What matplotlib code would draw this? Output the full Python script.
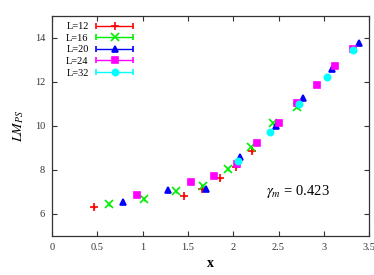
import numpy as np
import matplotlib
matplotlib.use('Agg')
import matplotlib.pyplot as plt
from matplotlib.legend_handler import HandlerErrorbar

plt.rcParams['font.family'] = 'Liberation Serif'
plt.rcParams['mathtext.fontset'] = 'stix'

# data
labels = ['L=12', 'L=16', 'L=20', 'L=24', 'L=32']
colors = ['#ff0000', '#00ee00', '#0000ff', '#ff00ff', '#00ffff']
markers = ['+', 'x', '^', 's', 'o']
msizes = [5.5, 5.5, 5, 5, 4.5]

x12 = [0.467, 1.46, 1.652, 1.854, 2.03, 2.204]
y12 = [6.32, 6.83, 7.13, 7.61, 8.15, 8.86]
x16 = [0.629, 1.019, 1.365, 1.663, 1.946, 2.196, 2.44, 2.70]
y16 = [6.45, 6.68, 7.02, 7.28, 8.03, 9.02, 10.12, 10.86]
x20 = [0.78, 1.277, 1.70, 2.08, 2.47, 2.77, 3.087, 3.39]
y20 = [6.54, 7.07, 7.13, 8.57, 10.0, 11.28, 12.56, 13.77]
x24 = [0.94, 1.534, 1.79, 2.04, 2.266, 2.50, 2.70, 2.92, 3.127, 3.32]
y24 = [6.86, 7.44, 7.70, 8.26, 9.23, 10.15, 11.04, 11.84, 12.71, 13.49]
x32 = [2.05, 2.41, 2.73, 3.03, 3.325]
y32 = [8.42, 9.70, 10.98, 12.21, 13.46]

xs = [x12, x16, x20, x24, x32]
ys = [y12, y16, y20, y24, y32]
yerr = 0.08

fig = plt.figure(figsize=(3.74, 2.75), dpi=100)
ax = fig.add_axes([0.139, 0.142, 0.848, 0.801])

handles = []
for xv, yv, c, m, ms, lab in zip(xs, ys, colors, markers, msizes, labels):
    ax.errorbar(xv, yv, yerr=yerr, fmt=m, color=c, ms=ms, mew=1.2,
                elinewidth=1, capsize=0, zorder=3)
    # legend proxy in gnuplot style: horizontal bar with caps
    h = ax.errorbar([np.nan], [np.nan], xerr=[1.0], fmt=m, color=c, ms=ms,
                    mew=1.2, elinewidth=1, capsize=2.5, label=lab)
    handles.append(h)

ax.set_xlim(0, 3.5)
ax.set_ylim(5, 15)
ax.set_xticks([0, 0.5, 1, 1.5, 2, 2.5, 3, 3.5])
ax.set_xticklabels(['0', '0.5', '1', '1.5', '2', '2.5', '3', '3.5'])
ax.set_yticks([6, 8, 10, 12, 14])
ax.tick_params(direction='in', top=True, right=True, length=3.5,
               width=0.8, labelsize=7.5, colors='#333333', pad=5)
for s in ax.spines.values():
    s.set_color('#333333')
    s.set_linewidth(0.9)

ax.set_xlabel('x', fontsize=10, fontweight='bold', labelpad=4)
ax.set_ylabel(r'$LM_{PS}$', fontsize=10, labelpad=6)

ax.text(2.36, 7.02, r'$\gamma_m$ = 0.423', fontsize=10.5, va='center')

hl = 3.6
ax.legend(handles=handles, loc='upper left', frameon=False, markerfirst=False,
          fontsize=7.5, handlelength=hl, labelspacing=0.22, handletextpad=0.7,
          borderaxespad=0.2, bbox_to_anchor=(0.025, 1.0),
          handler_map={type(handles[0]): HandlerErrorbar(xerr_size=hl / 2)})

fig.savefig('out.png', dpi=100)
